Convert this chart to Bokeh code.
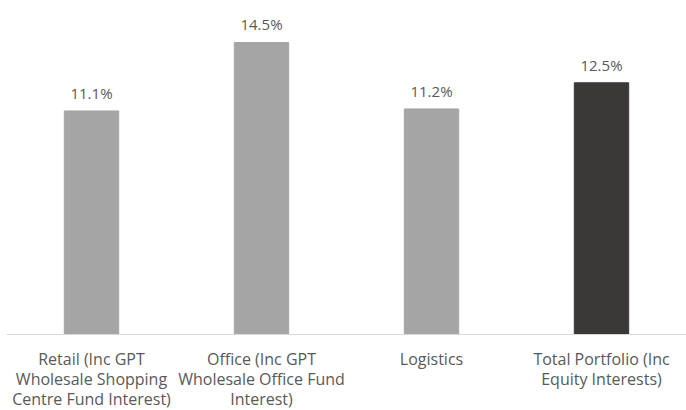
from bokeh.plotting import figure
from bokeh.models import ColumnDataSource, Range1d, FactorRange, Span
from bokeh.embed import file_html
from bokeh.resources import INLINE
from bokeh.core.properties import value

categories = [
    "Retail (Inc GPT\nWholesale Shopping\nCentre Fund Interest)",
    "Office (Inc GPT\nWholesale Office Fund\nInterest)",
    "Logistics",
    "Total Portfolio (Inc\nEquity Interests)",
]
values = [11.1, 14.5, 11.2, 12.5]
labels = ["11.1%", "14.5%", "11.2%", "12.5%"]
colors = ["#a5a5a5", "#a5a5a5", "#a5a5a5", "#3b3838"]

src = ColumnDataSource(dict(cat=categories, val=values, lab=labels, col=colors,
                            zero=[0] * len(values)))

# frame fills the canvas; the space below zero holds the category labels
p = figure(width=686, height=410, x_range=FactorRange(*categories),
           y_range=Range1d(-3.774, 16.585), output_backend="svg", toolbar_location=None,
           min_border_left=6, min_border_right=0, min_border_top=0, min_border_bottom=0)
p.vbar(x="cat", top="val", width=0.32, color="col", source=src)
p.add_layout(Span(location=0, dimension="width", line_color="#d9d9d9", line_width=1))

p.text(x="cat", y="val", text="lab", source=src, text_align="center",
       text_baseline="alphabetic", y_offset=-18, text_font=value("Open Sans"),
       text_font_size="15px", text_color="#595959")

p.text(x="cat", y="zero", text="cat", source=src, text_align="center",
       text_baseline="top", y_offset=14, text_font=value("Open Sans"),
       text_font_size="16px", text_color="#595959", text_line_height=0.89)

p.axis.visible = False
p.xgrid.visible = False
p.ygrid.visible = False
p.outline_line_color = None
p.x_range.range_padding = 0
p.x_range.group_padding = 0
p.background_fill_color = "white"
p.border_fill_color = "white"

open("out.html", "w").write(file_html(p, INLINE))
